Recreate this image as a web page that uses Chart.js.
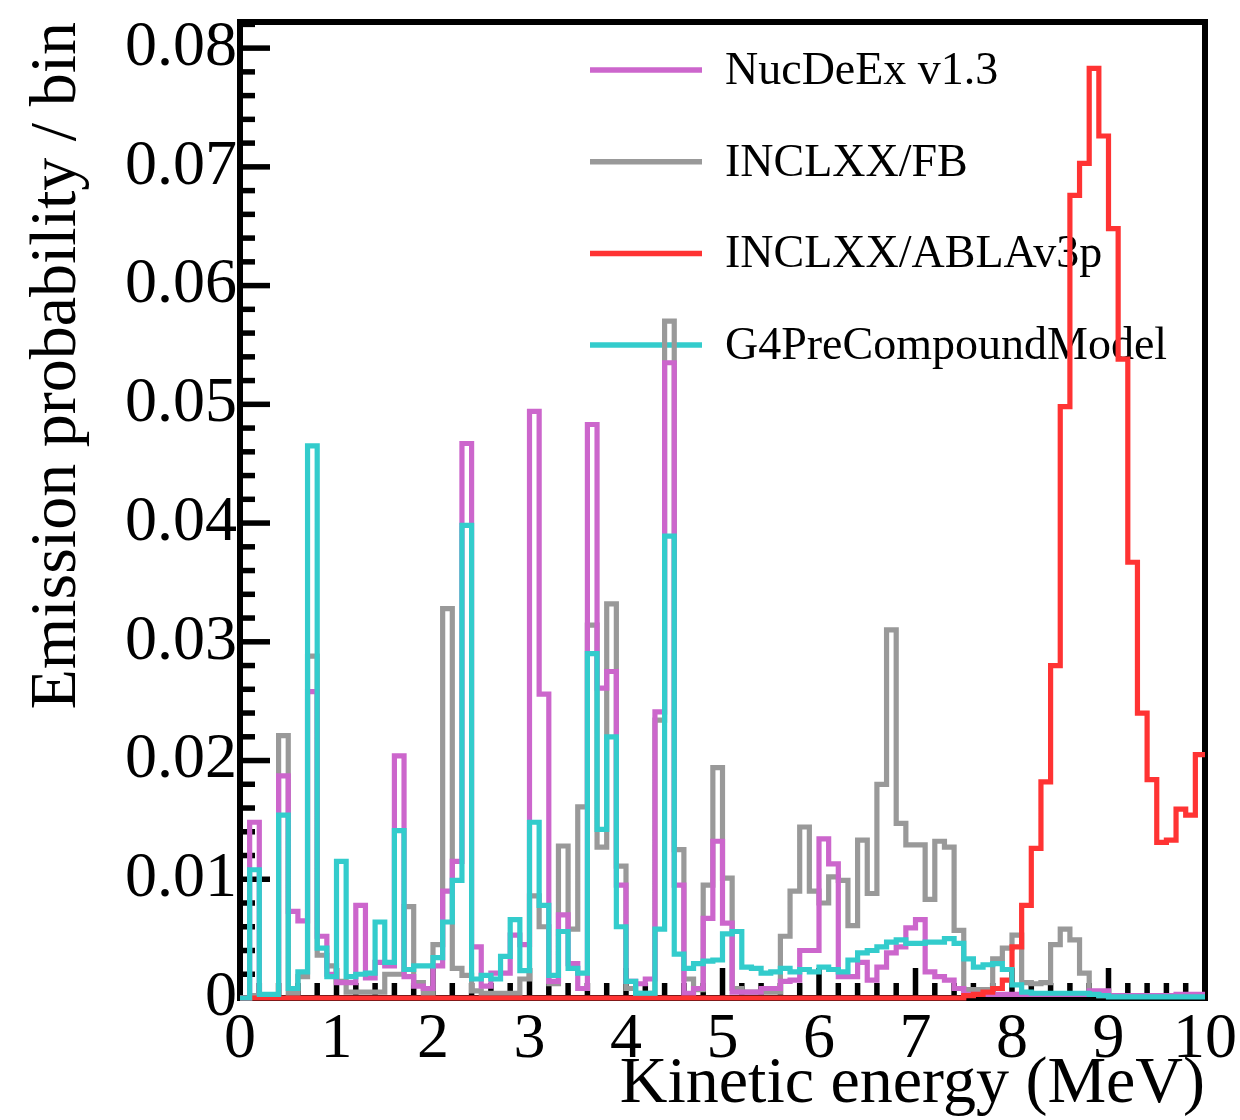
<!DOCTYPE html>
<html>
<head>
<meta charset="utf-8">
<script src="https://cdn.jsdelivr.net/npm/chart.js@4.4.0/dist/chart.umd.min.js"></script>
<style>
  html, body { margin: 0; padding: 0; background: #fff; }
  #wrap { width: 1240px; height: 1120px; }
</style>
</head>
<body>
<div id="wrap"><canvas id="spectrum" width="1240" height="1120"></canvas></div>
<script>
// emission probability per 0.1 MeV bin, 100 bins from 0 to 10 MeV
const binWidth = 0.1

const nucdeex = [
  0, 0.0148, 0.0002, 0.0002, 0.0187, 0.0073, 0.0065, 0.0258, 0.0052, 0.002,
  0.0013, 0.0013, 0.0078, 0.0017, 0.003, 0.0027, 0.0204, 0.0018, 0.001, 0.0008,
  0.0027, 0.009, 0.0115, 0.0467, 0.0043, 0.001, 0.0021, 0.0021, 0.0053, 0.0045,
  0.0494, 0.0256, 0.0014, 0.007, 0.0029, 0.0008, 0.0483, 0.0261, 0.0275, 0.0095,
  0.0014, 0.0012, 0.0016, 0.0241, 0.0535, 0.0095, 0.0004, 0.0008, 0.0067, 0.0132,
  0.0063, 0.0005, 0.0005, 0.0005, 0.0008, 0.0008, 0.0014, 0.0015, 0.004, 0.004,
  0.0134, 0.0113, 0.0018, 0.0018, 0.003, 0.0015, 0.0026, 0.0038, 0.0043, 0.0059,
  0.0066, 0.0022, 0.0018, 0.0015, 0.0008, 0.0003, 0.0003, 0.0003, 0.0003, 0.0003,
  0.0003, 0.0003, 0.0003, 0.0003, 0.0003, 0.0003, 0.0003, 0.0003, 0.0006, 0.0006,
  0.0002, 0.0002, 0.0002, 0.0002, 0.0002, 0.0002, 0.0002, 0.0003, 0.0003, 0.0003
]

const inclFB = [
  0, 0.0002, 0.0002, 0.0002, 0.0221, 0.0004, 0.0018, 0.0288, 0.0036, 0.0027,
  0.0014, 0.0005, 0.0005, 0.0005, 0.0005, 0.002, 0.002, 0.0077, 0.0013, 0.0004,
  0.0045, 0.0328, 0.0025, 0.0019, 0.0006, 0.0004, 0.0004, 0.0004, 0.0004, 0.0016,
  0.0086, 0.006, 0.0012, 0.0128, 0.0058, 0.0161, 0.0314, 0.0127, 0.0332, 0.0111,
  0.0008, 0.0004, 0.0004, 0.0234, 0.057, 0.0125, 0.0016, 0.0007, 0.0095, 0.0194,
  0.0101, 0.0008, 0.0005, 0.0005, 0.0005, 0.0005, 0.0052, 0.009, 0.0144, 0.009,
  0.008, 0.0102, 0.0099, 0.0061, 0.0133, 0.0088, 0.018, 0.031, 0.0147, 0.0129,
  0.0129, 0.0083, 0.0132, 0.0127, 0.0057, 0.0007, 0.0007, 0.0007, 0.0033, 0.0042,
  0.0053, 0.0013, 0.0012, 0.0013, 0.0045, 0.0058, 0.0049, 0.0021, 0.0004, 0.0002,
  0.0002, 0.0002, 0.0002, 0.0002, 0.0002, 0.0002, 0.0002, 0.0002, 0.0002, 0.0002
]

const inclABLA = [
  0, 0, 0, 0, 0, 0, 0, 0, 0, 0,
  0, 0, 0, 0, 0, 0, 0, 0, 0, 0,
  0, 0, 0, 0, 0, 0, 0, 0, 0, 0,
  0, 0, 0, 0, 0, 0, 0, 0, 0, 0,
  0, 0, 0, 0, 0, 0, 0, 0, 0, 0,
  0, 0, 0, 0, 0, 0, 0, 0, 0, 0,
  0, 0, 0, 0, 0, 0, 0, 0, 0, 0,
  0, 0, 0, 0, 0, 0.0002, 0.0003, 0.0005, 0.0008, 0.0015,
  0.0043, 0.0078, 0.0126, 0.0182, 0.028, 0.0498, 0.0676, 0.0703, 0.0783, 0.0726,
  0.0648, 0.0538, 0.0367, 0.024, 0.0184, 0.0131, 0.0133, 0.0159, 0.0154, 0.0205
]

const g4pre = [
  0, 0.0108, 0.0003, 0.0003, 0.0154, 0.0008, 0.0022, 0.0465, 0.0042, 0.0018,
  0.0115, 0.0018, 0.002, 0.0021, 0.0064, 0.003, 0.0141, 0.0024, 0.0027, 0.0027,
  0.0034, 0.0064, 0.0099, 0.0398, 0.0016, 0.0019, 0.0016, 0.0035, 0.0066, 0.0023,
  0.0148, 0.0078, 0.0019, 0.0056, 0.0025, 0.0021, 0.029, 0.0142, 0.022, 0.006,
  0.0014, 0.0004, 0.0004, 0.0058, 0.0389, 0.0037, 0.0025, 0.0029, 0.0031, 0.0032,
  0.0054, 0.0056, 0.0026, 0.0025, 0.0021, 0.0022, 0.0025, 0.0022, 0.0024, 0.0022,
  0.0026, 0.0024, 0.0022, 0.0032, 0.0038, 0.004, 0.0043, 0.0047, 0.0049, 0.0046,
  0.0046, 0.0047, 0.0047, 0.005, 0.0046, 0.0033, 0.0026, 0.0028, 0.0029, 0.0024,
  0.0011, 0.0005, 0.0004, 0.0004, 0.0004, 0.0004, 0.0004, 0.0004, 0.0003, 0.0002,
  0.0001, 0.0001, 0.0001, 0.0001, 0.0001, 0.0001, 0.0001, 0.0001, 0.0001, 0.0001
]

const xTickValues = [0, 1, 2, 3, 4, 5, 6, 7, 8, 9, 10]
const xTickLabels = ['0', '1', '2', '3', '4', '5', '6', '7', '8', '9', '10']
const yTickValues = [0, 0.01, 0.02, 0.03, 0.04, 0.05, 0.06, 0.07, 0.08]
const yTickLabels = ['0', '0.01', '0.02', '0.03', '0.04', '0.05', '0.06', '0.07', '0.08']

const serif = '"Liberation Serif", "DejaVu Serif", serif'

// histogram -> points at bin low edges, drawn as steps
function toSteps(values) {
  const pts = values.map((v, i) => ({ x: Math.round(i * binWidth * 10) / 10, y: v }))
  pts.push({ x: values.length * binWidth, y: values[values.length - 1] })
  return pts
}

function seg(ctx, x1, y1, x2, y2) {
  ctx.beginPath()
  ctx.moveTo(x1, y1)
  ctx.lineTo(x2, y2)
  ctx.stroke()
}

// ROOT style frame, inward ticks and legend box (drawn under the histograms)
const rootFrame = {
  id: 'rootFrame',
  beforeDatasetsDraw(chart) {
    const { ctx, chartArea: a, scales: { x, y } } = chart
    ctx.save()
    ctx.strokeStyle = '#000'
    ctx.lineCap = 'butt'
    ctx.lineWidth = 5.5
    for (let k = 0; k * 0.002 <= y.max + 1e-9; k++) {
      const py = y.getPixelForValue(k * 0.002)
      seg(ctx, a.left, py, a.left + (k % 5 === 0 ? 30 : 15), py)
    }
    for (let k = 0; k <= 50; k++) {
      const px = x.getPixelForValue(k * 0.2)
      seg(ctx, px, a.bottom, px, a.bottom - (k % 5 === 0 ? 30 : 15))
    }
    ctx.lineWidth = 6
    ctx.strokeRect(a.left, a.top, a.right - a.left, a.bottom - a.top)

    // legend
    chart.data.datasets.forEach((ds, i) => {
      const ly = 70 + i * 91.7
      ctx.strokeStyle = ds.borderColor
      ctx.lineWidth = 5.5
      seg(ctx, 590, ly, 702, ly)
      ctx.fillStyle = '#000'
      ctx.font = '46px ' + serif
      ctx.textBaseline = 'middle'
      ctx.textAlign = 'left'
      ctx.fillText(ds.label, 725, ly + 2)
    })
    ctx.restore()
  }
}

function histo(label, values, color, order) {
  return {
    label: label,
    data: toSteps(values),
    borderColor: color,
    backgroundColor: color,
    borderWidth: 5.2,
    stepped: 'before',
    pointRadius: 0,
    fill: false,
    order: order,
    clip: 6,
    borderJoinStyle: 'miter'
  }
}

const ctx = document.getElementById('spectrum')

new Chart(ctx, {
  type: 'line',
  data: {
    datasets: [
      histo('NucDeEx v1.3', nucdeex, '#cc66cc', 2),
      histo('INCLXX/FB', inclFB, '#999999', 3),
      histo('INCLXX/ABLAv3p', inclABLA, '#ff3333', 1),
      histo('G4PreCompoundModel', g4pre, '#33cccc', 0)
    ]
  },
  options: {
    responsive: false,
    animation: false,
    devicePixelRatio: 1,
    layout: { padding: { left: 0, right: 35, top: 22, bottom: 0 } },
    plugins: {
      legend: { display: false },
      tooltip: { enabled: false }
    },
    scales: {
      x: {
        type: 'linear',
        min: 0,
        max: 10,
        grid: { display: false, drawTicks: false },
        border: { display: false },
        afterBuildTicks: s => { s.ticks = xTickValues.map(v => ({ value: v })) },
        afterFit: s => {
          s.height = 122
          s.paddingLeft = 0
          s.paddingRight = 0
        },
        ticks: {
          autoSkip: false,
          maxRotation: 0,
          padding: 4,
          color: '#000',
          font: { family: serif, size: 64 },
          callback: (v, i) => xTickLabels[i]
        },
        title: {
          display: true,
          text: 'Kinetic energy (MeV)',
          align: 'end',
          color: '#000',
          font: { family: serif, size: 66, lineHeight: 1 },
          padding: { top: 0, bottom: 2 }
        }
      },
      y: {
        type: 'linear',
        min: 0,
        max: 0.0822,
        grid: { display: false, drawTicks: false },
        border: { display: false },
        afterBuildTicks: s => { s.ticks = yTickValues.map(v => ({ value: v })) },
        afterFit: s => {
          s.width = 240
          s.paddingTop = 0
          s.paddingBottom = 0
        },
        ticks: {
          padding: 3,
          color: '#000',
          font: { family: serif, size: 64 },
          callback: (v, i) => yTickLabels[i]
        },
        title: {
          display: true,
          text: 'Emission probability / bin',
          align: 'end',
          color: '#000',
          font: { family: serif, size: 66, lineHeight: 1 },
          padding: { top: 25, bottom: 0 }
        }
      }
    }
  },
  plugins: [rootFrame]
})
</script>
</body>
</html>
